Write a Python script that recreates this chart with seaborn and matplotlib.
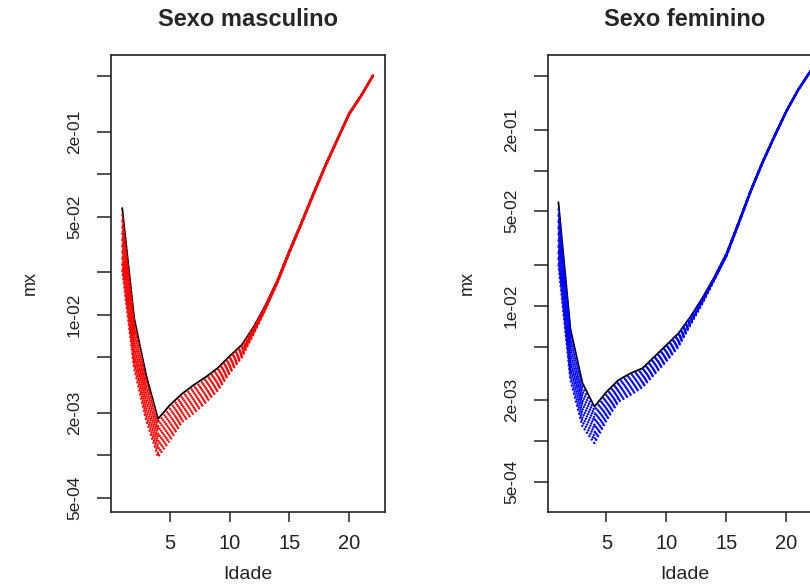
import matplotlib
matplotlib.use("Agg")
import pandas as pd
import matplotlib.pyplot as plt
import seaborn as sns
from matplotlib.ticker import FixedLocator, NullLocator

OUTPUT_PATH = "out.png"

# idade (grupo etario, indice 1..22)
ages = list(range(1, 23))

# linha 0 = ano base (preta), linhas 1..10 = projecoes (coloridas)
series_labels = [f"p{k:02d}" for k in range(11)]

# log10(mx), sexo masculino
male_log10_mx = [
    [-1.241, -2.023, -2.428, -2.741, -2.642, -2.563, -2.499, -2.443, -2.379, -2.294, -2.215, -2.087, -1.931, -1.753, -1.541, -1.342, -1.135, -0.936, -0.751, -0.566, -0.438, -0.295],
    [-1.285, -2.059, -2.460, -2.768, -2.667, -2.583, -2.519, -2.461, -2.395, -2.306, -2.224, -2.092, -1.934, -1.755, -1.543, -1.344, -1.137, -0.937, -0.752, -0.567, -0.439, -0.296],
    [-1.329, -2.095, -2.492, -2.795, -2.692, -2.603, -2.539, -2.479, -2.411, -2.318, -2.233, -2.097, -1.937, -1.757, -1.545, -1.345, -1.138, -0.938, -0.753, -0.568, -0.440, -0.296],
    [-1.373, -2.131, -2.524, -2.822, -2.717, -2.623, -2.559, -2.497, -2.427, -2.330, -2.242, -2.102, -1.940, -1.759, -1.547, -1.347, -1.140, -0.940, -0.754, -0.569, -0.440, -0.297],
    [-1.417, -2.167, -2.556, -2.849, -2.742, -2.643, -2.579, -2.515, -2.443, -2.342, -2.251, -2.107, -1.943, -1.761, -1.549, -1.348, -1.141, -0.941, -0.755, -0.570, -0.441, -0.297],
    [-1.461, -2.203, -2.588, -2.876, -2.767, -2.663, -2.599, -2.533, -2.459, -2.354, -2.260, -2.112, -1.946, -1.763, -1.551, -1.350, -1.143, -0.942, -0.756, -0.571, -0.442, -0.298],
    [-1.505, -2.239, -2.620, -2.903, -2.792, -2.683, -2.619, -2.551, -2.475, -2.366, -2.269, -2.117, -1.949, -1.765, -1.553, -1.351, -1.144, -0.943, -0.757, -0.572, -0.443, -0.299],
    [-1.549, -2.275, -2.652, -2.930, -2.817, -2.703, -2.639, -2.569, -2.491, -2.378, -2.278, -2.122, -1.952, -1.767, -1.555, -1.353, -1.146, -0.944, -0.758, -0.573, -0.444, -0.299],
    [-1.593, -2.311, -2.684, -2.957, -2.842, -2.723, -2.659, -2.587, -2.507, -2.390, -2.287, -2.127, -1.955, -1.769, -1.557, -1.354, -1.147, -0.946, -0.759, -0.574, -0.444, -0.300],
    [-1.637, -2.347, -2.716, -2.984, -2.867, -2.743, -2.679, -2.605, -2.523, -2.402, -2.296, -2.132, -1.958, -1.771, -1.559, -1.356, -1.149, -0.947, -0.760, -0.575, -0.445, -0.300],
    [-1.681, -2.383, -2.748, -3.011, -2.892, -2.763, -2.699, -2.623, -2.539, -2.414, -2.305, -2.137, -1.961, -1.773, -1.561, -1.357, -1.150, -0.948, -0.761, -0.576, -0.446, -0.301],
]

# log10(mx), sexo feminino
female_log10_mx = [
    [-1.234, -2.170, -2.570, -2.746, -2.637, -2.549, -2.499, -2.462, -2.376, -2.290, -2.203, -2.081, -1.942, -1.787, -1.613, -1.385, -1.150, -0.936, -0.742, -0.556, -0.397, -0.263],
    [-1.280, -2.208, -2.602, -2.773, -2.658, -2.565, -2.515, -2.476, -2.389, -2.302, -2.213, -2.087, -1.946, -1.789, -1.615, -1.387, -1.151, -0.937, -0.743, -0.557, -0.398, -0.264],
    [-1.326, -2.246, -2.634, -2.800, -2.679, -2.581, -2.531, -2.490, -2.402, -2.314, -2.223, -2.093, -1.950, -1.791, -1.617, -1.388, -1.152, -0.938, -0.744, -0.558, -0.398, -0.264],
    [-1.372, -2.284, -2.666, -2.827, -2.700, -2.597, -2.547, -2.504, -2.415, -2.326, -2.233, -2.099, -1.954, -1.793, -1.619, -1.390, -1.154, -0.939, -0.745, -0.558, -0.399, -0.265],
    [-1.418, -2.322, -2.698, -2.854, -2.721, -2.613, -2.563, -2.518, -2.428, -2.338, -2.243, -2.105, -1.958, -1.795, -1.621, -1.391, -1.155, -0.940, -0.746, -0.559, -0.399, -0.265],
    [-1.464, -2.360, -2.730, -2.881, -2.742, -2.629, -2.579, -2.532, -2.441, -2.350, -2.253, -2.111, -1.962, -1.797, -1.623, -1.393, -1.156, -0.941, -0.747, -0.560, -0.400, -0.266],
    [-1.510, -2.398, -2.762, -2.908, -2.763, -2.645, -2.595, -2.546, -2.454, -2.362, -2.263, -2.117, -1.966, -1.799, -1.625, -1.394, -1.157, -0.942, -0.748, -0.561, -0.401, -0.266],
    [-1.556, -2.436, -2.794, -2.935, -2.784, -2.661, -2.611, -2.560, -2.467, -2.374, -2.273, -2.123, -1.970, -1.801, -1.627, -1.396, -1.158, -0.943, -0.749, -0.562, -0.401, -0.267],
    [-1.602, -2.474, -2.826, -2.962, -2.805, -2.677, -2.627, -2.574, -2.480, -2.386, -2.283, -2.129, -1.974, -1.803, -1.629, -1.397, -1.160, -0.944, -0.750, -0.562, -0.402, -0.267],
    [-1.648, -2.512, -2.858, -2.989, -2.826, -2.693, -2.643, -2.588, -2.493, -2.398, -2.293, -2.135, -1.978, -1.805, -1.631, -1.399, -1.161, -0.945, -0.751, -0.563, -0.402, -0.268],
    [-1.694, -2.550, -2.890, -3.016, -2.847, -2.709, -2.659, -2.602, -2.506, -2.410, -2.303, -2.141, -1.982, -1.807, -1.633, -1.400, -1.162, -0.946, -0.752, -0.564, -0.403, -0.268],
]

x_ticks = [5, 10, 15, 20]
y_ticks = [5e-4, 1e-3, 2e-3, 5e-3, 1e-2, 2e-2, 5e-2, 1e-1, 2e-1, 5e-1]
y_tick_labels = ["5e-04", "", "2e-03", "", "1e-02", "", "5e-02", "", "2e-01", ""]


def build_frame(log_rows):
    rows = []
    for label, values in zip(series_labels, log_rows):
        for age, value in zip(ages, values):
            rows.append({"Idade": age, "mx": 10 ** value, "serie": label})
    return pd.DataFrame(rows)


def draw_panel(ax, df, color, title, xlim, ylim):
    palette = {s: ("black" if i == 0 else color) for i, s in enumerate(series_labels)}
    dashes = {s: ("" if i == 0 else (1, 1)) for i, s in enumerate(series_labels)}
    sizes = {s: (1.3 if i == 0 else 1.5) for i, s in enumerate(series_labels)}
    sns.lineplot(data=df, x="Idade", y="mx", hue="serie", style="serie", size="serie",
                 palette=palette, dashes=dashes, sizes=sizes,
                 estimator=None, legend=False, ax=ax)
    ax.set_yscale("log")
    ax.set_xlim(*xlim)
    ax.set_ylim(*ylim)
    ax.xaxis.set_major_locator(FixedLocator(x_ticks))
    ax.yaxis.set_major_locator(FixedLocator(y_ticks))
    ax.yaxis.set_minor_locator(NullLocator())
    ax.set_yticklabels(y_tick_labels)
    ax.tick_params(axis="x", length=7, width=1.1, pad=9, labelsize=14.5, colors="#222222")
    ax.tick_params(axis="y", length=10, width=1.1, pad=11, labelsize=12.5, colors="#222222")
    for lab in ax.get_yticklabels():
        lab.set_rotation(90)
        lab.set_va("center")
    for spine in ax.spines.values():
        spine.set_visible(True)
        spine.set_linewidth(1.2)
        spine.set_color("#222222")
    ax.set_xlabel("Idade", fontsize=14, labelpad=9, color="#222222")
    ax.set_ylabel("mx", fontsize=13, labelpad=20, color="#222222")
    ax.set_title(title, fontsize=17, fontweight="bold", pad=21)
    ax.grid(False)


def main():
    sns.set_style("ticks")
    plt.rcParams["font.family"] = ["Liberation Sans", "DejaVu Sans"]

    fig = plt.figure(figsize=(8.1, 5.87), dpi=100)
    ax_m = fig.add_axes([0.1370, 0.1278, 0.3383, 0.7785])
    ax_f = fig.add_axes([0.6765, 0.1278, 0.3383, 0.7785])

    draw_panel(ax_m, build_frame(male_log10_mx), "#FF0000", "Sexo masculino",
               (0.06, 23.0), (3.95e-4, 0.705))
    draw_panel(ax_f, build_frame(female_log10_mx), "#0000FF", "Sexo feminino",
               (0.13, 22.96), (2.99e-4, 0.715))

    fig.savefig(OUTPUT_PATH, dpi=100)
    plt.close(fig)


if __name__ == "__main__":
    main()
